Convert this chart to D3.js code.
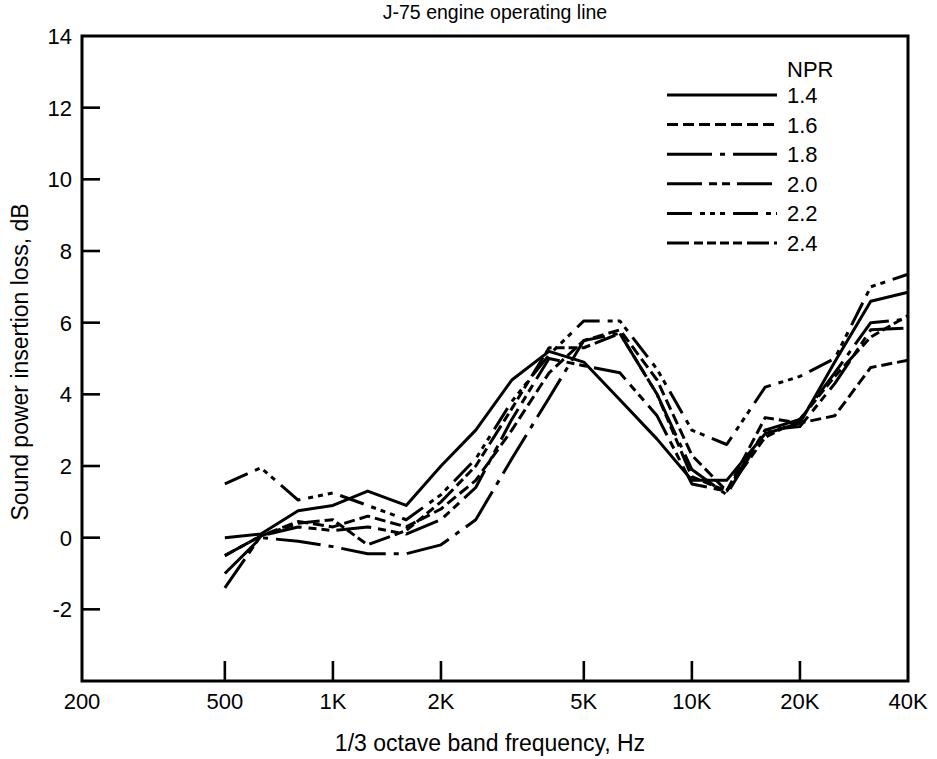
<!DOCTYPE html>
<html>
<head>
<meta charset="utf-8">
<script src="https://cdn.jsdelivr.net/npm/d3@7"></script>
<style>
  body { margin: 0; background: #fff; }
  text { font-family: "Liberation Sans", Arial, sans-serif; fill: #000; }
</style>
</head>
<body>
<div id="chart"></div>
<script>
/*********************************
   J-75 INSERTION LOSS CHART
 *********************************/

// 1/3 Octave Band Centre Frequencies (Hz)
const freqs = [500, 630, 800, 1000, 1250, 1600, 2000, 2500, 3150, 4000, 5000, 6300, 8000, 10000, 12500, 16000, 20000, 25000, 31500, 40000];

// Sound Power Insertion Loss (dB) Per Nozzle Pressure Ratio
const npr14 = [0.0, 0.1, 0.75, 0.9, 1.3, 0.9, 2.0, 3.0, 4.4, 5.2, 4.9, 3.85, 2.75, 1.6, 1.6, 2.9, 3.2, 4.9, 6.6, 6.85];
const npr16 = [-0.5, 0.05, 0.45, 0.3, 0.6, 0.3, 0.8, 1.6, 3.0, 4.6, 5.5, 5.8, 4.4, 2.3, 1.3, 3.35, 3.2, 3.4, 4.75, 4.95];
const npr18 = [-1.0, 0.0, -0.1, -0.25, -0.45, -0.45, -0.2, 0.5, 2.2, 3.9, 5.5, 5.7, 4.0, 1.9, 1.2, 3.0, 3.3, 4.6, 6.0, 6.1];
const npr20 = [-1.4, 0.05, 0.3, 0.2, 0.3, 0.1, 0.5, 1.4, 3.3, 5.0, 4.8, 4.6, 3.4, 1.5, 1.3, 3.0, 3.1, 4.3, 5.8, 5.85];
const npr22 = [1.5, 1.95, 1.05, 1.25, 0.9, 0.5, 1.2, 2.2, 3.8, 5.1, 6.05, 6.05, 4.7, 3.0, 2.6, 4.2, 4.5, 5.0, 7.0, 7.35];
const npr24 = [-0.5, 0.05, 0.4, 0.5, -0.2, 0.2, 1.0, 2.0, 3.6, 5.3, 5.3, 5.7, 4.0, 1.7, 1.3, 2.8, 3.3, 4.5, 5.6, 6.2];

const seriesNames = ["1.4", "1.6", "1.8", "2.0", "2.2", "2.4"];
const seriesValues = [npr14, npr16, npr18, npr20, npr22, npr24];
const seriesDashes = ["none", "11,5", "45,8,5,8", "35,7,8,5,8,7", "25,8,5,5,5,5,5,8", "22,5,9,4,9,4,9,4,9,5"];

// Axis Ticks
const xTicks = [200, 500, 1000, 2000, 5000, 10000, 20000, 40000];
const xTickLabels = ["200", "500", "1K", "2K", "5K", "10K", "20K", "40K"];
const yTicks = [-2, 0, 2, 4, 6, 8, 10, 12, 14];

// Initialise Dimensions
let w = 937, h = 759;
let plotLeft = 82, plotRight = 908, plotTop = 36, plotBottom = 681;

// Render SVG On DOM
let svg = d3.select("#chart").append("svg").attr("width", w).attr("height", h);

// Scales
let x = d3.scaleLog().domain([200, 40000]).range([plotLeft, plotRight]);
let y = d3.scaleLinear().domain([-4, 14]).range([plotBottom, plotTop]);

// Frame
svg.append("rect").attr("x", plotLeft).attr("y", plotTop).attr("width", plotRight - plotLeft).attr("height", plotBottom - plotTop)
  .attr("fill", "none").attr("stroke", "#000").attr("stroke-width", 3);

// X Ticks (Inward) & Labels
svg.selectAll(".xtick").data(xTicks.filter(d => d > 200 && d < 40000)).enter().append("line")
  .attr("x1", d => x(d)).attr("x2", d => x(d)).attr("y1", plotBottom).attr("y2", plotBottom - 20)
  .attr("stroke", "#000").attr("stroke-width", 2.6);
svg.selectAll(".xlabel").data(xTicks).enter().append("text")
  .attr("x", d => x(d)).attr("y", 709).attr("text-anchor", "middle").style("font-size", "22px")
  .text((d, i) => xTickLabels[i]);

// Y Ticks (Inward) & Labels
svg.selectAll(".ytick").data(yTicks.filter(d => d < 14)).enter().append("line")
  .attr("x1", plotLeft).attr("x2", plotLeft + 18).attr("y1", d => y(d)).attr("y2", d => y(d))
  .attr("stroke", "#000").attr("stroke-width", 2.6);
svg.selectAll(".ylabel").data(yTicks).enter().append("text")
  .attr("x", 72).attr("y", d => y(d) + 8).attr("text-anchor", "end").style("font-size", "22px")
  .text(d => d);

// Titles
svg.append("text").attr("x", 495).attr("y", 19).attr("text-anchor", "middle").style("font-size", "19.5px")
  .text("J-75 engine operating line");
svg.append("text").attr("x", 490).attr("y", 751).attr("text-anchor", "middle").style("font-size", "23px")
  .text("1/3 octave band frequency, Hz");
svg.append("text").attr("transform", "translate(28,362) rotate(-90)").attr("text-anchor", "middle").style("font-size", "23px")
  .text("Sound power insertion loss, dB");

// Draw Series Lines
let line = d3.line().x((d, i) => x(freqs[i])).y(d => y(d));
svg.selectAll(".series").data(seriesValues).enter().append("path")
  .attr("d", d => line(d)).attr("fill", "none").attr("stroke", "#000").attr("stroke-width", 3)
  .attr("stroke-linejoin", "round").attr("stroke-dasharray", (d, i) => seriesDashes[i]);

// Legend
svg.append("text").attr("x", 787).attr("y", 77).style("font-size", "22px").text("NPR");
let legend = svg.selectAll(".legend").data(seriesNames).enter().append("g")
  .attr("transform", (d, i) => "translate(0," + (95 + i * 29.6) + ")");
legend.append("line").attr("x1", 667).attr("x2", 777).attr("y1", 0).attr("y2", 0)
  .attr("stroke", "#000").attr("stroke-width", 3).attr("stroke-dasharray", (d, i) => seriesDashes[i]);
legend.append("text").attr("x", 787).attr("y", 8).style("font-size", "22px").text(d => d);
</script>
</body>
</html>
